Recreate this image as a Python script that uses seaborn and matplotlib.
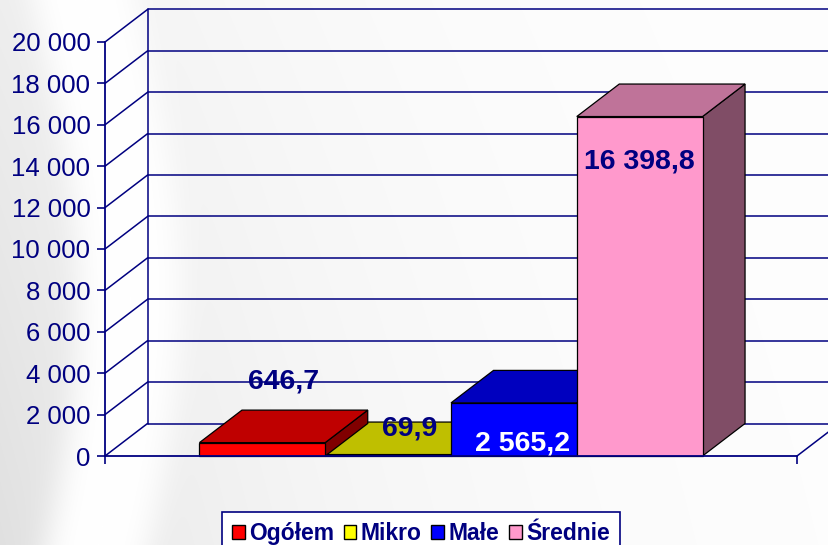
import numpy as np
import pandas as pd
import matplotlib
matplotlib.use("Agg")
import matplotlib.pyplot as plt
import seaborn as sns
from matplotlib.patches import Polygon, Patch
from matplotlib import colors as mcolors

# ---------------- data ----------------
series = ["Ogółem", "Mikro", "Małe", "Średnie"]
values = [646.7, 69.9, 2565.2, 16398.8]
value_labels = ["646,7", "69,9", "2 565,2", "16 398,8"]
y_ticks = [0, 2000, 4000, 6000, 8000, 10000, 12000, 14000, 16000, 18000, 20000]
y_tick_labels = ["0", "2 000", "4 000", "6 000", "8 000", "10 000",
                 "12 000", "14 000", "16 000", "18 000", "20 000"]

# ---------------- style ----------------
bar_colors = ["#FF0000", "#FFFF00", "#0000FF", "#FF99CC"]
label_colors = ["#000080", "#000080", "#FFFFFF", "#000080"]
label_offsets_pt = [(15.5, 38.9), (15.8, 13.7), (6.1, -34.6), (0.0, -37.4)]
draw_order = [1, 0, 2, 3]  # Mikro drawn first, then others over it
navy = "#000080"

sns.set_theme(style="white")
plt.rcParams["font.family"] = ["Liberation Sans", "DejaVu Sans"]

W, H = 829, 545
fig = plt.figure(figsize=(W / 100, H / 100), dpi=100)

# background swoosh
bg = fig.add_axes([0, 0, 1, 1], zorder=-10)
yy, xx = np.mgrid[0:H, 0:W].astype(float)
field = 1 - 0.12 * np.exp(-xx / 300.0) * (0.55 + 0.45 * yy / H)
center = 85 + 45 * np.sin(np.pi * yy / 600.0)
band = np.exp(-((xx - center) / 55.0) ** 4)
g = field + (1 - field) * band
g = np.clip(g, 0, 1)
bg.imshow(np.dstack([g, g, g]), aspect="auto", extent=[0, W, H, 0])
bg.axis("off")

# main (front plane) axes
front_left, front_right, front_top, front_bottom = 105, 797, 42, 456
ax = fig.add_axes([front_left / W, (H - front_bottom) / H,
                   (front_right - front_left) / W, (front_bottom - front_top) / H])
ax.set_facecolor("none")

df = pd.DataFrame({"grp": [""] * len(series), "series": series, "value": values})
sns.barplot(data=df, x="grp", y="value", hue="series", hue_order=series,
            palette=bar_colors, width=0.727, gap=0, dodge=True,
            edgecolor="black", linewidth=0.9, saturation=1, legend=False, ax=ax)

ax.set_xlim(-0.5, 0.5)
ax.set_ylim(0, 20000)

px_x = 1.0 / (front_right - front_left)
px_y = 20000.0 / (front_bottom - front_top)
dxd = 42.5 * px_x
dyd = 32.5 * px_y

# walls / gridlines
lw = 1.1
xmax_far = 0.5 + 200 * px_x
for v in y_ticks:
    ax.plot([-0.5 + dxd, xmax_far], [v + dyd, v + dyd], color=navy, lw=lw,
            clip_on=False, zorder=1)
    ax.plot([-0.5, -0.5 + dxd], [v, v + dyd], color=navy, lw=lw,
            clip_on=False, zorder=1)
ax.plot([-0.5 + dxd, -0.5 + dxd], [dyd, 20000 + dyd], color=navy, lw=lw,
        clip_on=False, zorder=1)
ax.plot([0.5, 0.5 + dxd], [0, dyd], color=navy, lw=lw, clip_on=False, zorder=1)

# 3D faces for bars
patches = sorted(ax.patches, key=lambda p: p.get_x())
for rank, idx in enumerate(draw_order):
    p = patches[idx]
    base = np.array(mcolors.to_rgb(bar_colors[idx]))
    z = 2 + rank
    x0, x1 = p.get_x(), p.get_x() + p.get_width()
    h = p.get_height()
    top = Polygon([(x0, h), (x1, h), (x1 + dxd, h + dyd), (x0 + dxd, h + dyd)],
                  closed=True, facecolor=base * 0.75, edgecolor="black",
                  lw=0.9, clip_on=False, zorder=z)
    side = Polygon([(x1, 0), (x1 + dxd, dyd), (x1 + dxd, h + dyd), (x1, h)],
                   closed=True, facecolor=base * 0.5, edgecolor="black",
                   lw=0.9, clip_on=False, zorder=z)
    ax.add_patch(side)
    ax.add_patch(top)
    p.set_zorder(z + 0.5)
    p.set_clip_on(False)

# value labels
for i, p in enumerate(patches):
    cx = p.get_x() + p.get_width() / 2
    h = p.get_height()
    ax.annotate(value_labels[i], xy=(cx, h), xytext=label_offsets_pt[i],
                textcoords="offset points", ha="center", va="baseline",
                fontsize=20.5, fontweight="bold", color=label_colors[i],
                zorder=20, annotation_clip=False)

# axes styling
for s in ["top", "right"]:
    ax.spines[s].set_visible(False)
for s in ["left", "bottom"]:
    ax.spines[s].set_color(navy)
    ax.spines[s].set_linewidth(1.3)
    ax.spines[s].set_zorder(6)
ax.set_yticks(y_ticks)
ax.set_yticklabels(y_tick_labels)
ax.set_xticks([-0.5, 0.5])
ax.set_xticklabels(["", ""])
ax.set_xlabel("")
ax.set_ylabel("")
ax.tick_params(axis="y", length=6, width=1.2, color=navy, labelcolor=navy,
               labelsize=18.5, pad=4.5, left=True)
ax.tick_params(axis="x", length=6, width=1.2, color=navy, bottom=True)

# legend
handles = [Patch(facecolor=c, edgecolor="black", lw=1.0) for c in bar_colors]
leg = fig.legend(handles, series, loc="upper center",
                 bbox_to_anchor=(421 / W, 1 - 512 / H), ncol=4,
                 frameon=True, fancybox=False, framealpha=1,
                 prop={"weight": "bold", "size": 16.5},
                 handlelength=0.55, handleheight=0.55, handletextpad=0.2,
                 columnspacing=0.42, borderpad=0.45, borderaxespad=0)
leg.get_frame().set_edgecolor(navy)
leg.get_frame().set_linewidth(1.2)
for t in leg.get_texts():
    t.set_color(navy)

fig.savefig("out.png", dpi=100)
